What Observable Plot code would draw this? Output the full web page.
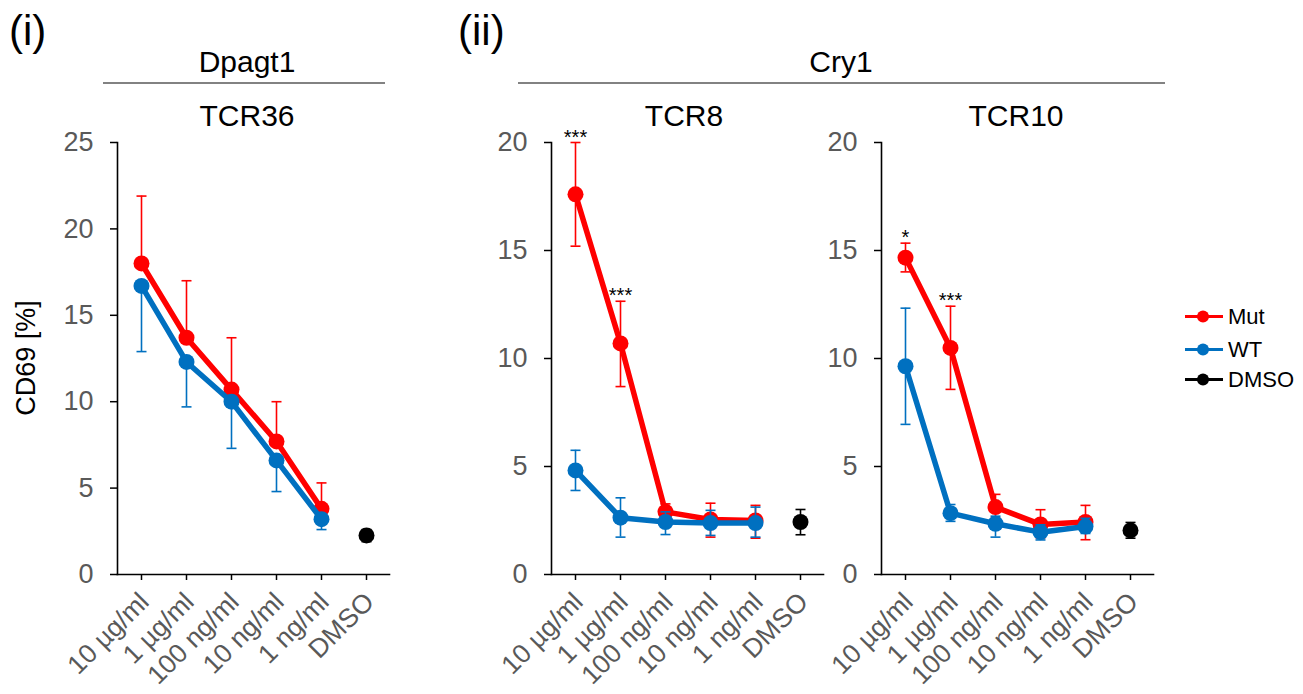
<!DOCTYPE html>
<html>
<head>
<meta charset="utf-8">
<script src="https://cdn.jsdelivr.net/npm/d3@7"></script>
<script src="https://cdn.jsdelivr.net/npm/@observablehq/plot@0.6"></script>
<style>
  html, body { margin: 0; padding: 0; background: #fff; }
  #root { position: relative; width: 1303px; height: 694px; overflow: hidden; font-family: Arial, "Liberation Sans", sans-serif; }
  #overlay { position: absolute; left: 0; top: 0; pointer-events: none; }
</style>
</head>
<body>
<div id="root"></div>
<script>
// ---------- data ----------
const categories = ["10 µg/ml", "1 µg/ml", "100 ng/ml", "10 ng/ml", "1 ng/ml", "DMSO"];
const doses = categories.slice(0, 5);

// (i) Dpagt1 – TCR36
const tcr36Mut   = [18.0, 13.7, 10.7, 7.7, 3.8];
const tcr36MutLo = [null, null, null, null, null];
const tcr36MutHi = [21.9, 17.0, 13.7, 10.0, 5.3];
const tcr36WT    = [16.7, 12.3, 10.0, 6.6, 3.2];
const tcr36WTLo  = [12.9, 9.7, 7.3, 4.8, 2.6];
const tcr36WTHi  = [null, null, null, null, null];
const tcr36DMSO  = [2.26, 1.9, 2.6];        // mean, lo, hi
const tcr36Stars = ["", "", "", "", ""];

// (ii) Cry1 – TCR8
const tcr8Mut   = [17.6, 10.7, 2.9, 2.55, 2.5];
const tcr8MutLo = [15.2, 8.7, 2.6, 1.73, 1.68];
const tcr8MutHi = [20.0, 12.65, 3.27, 3.3, 3.2];
const tcr8WT    = [4.82, 2.63, 2.43, 2.38, 2.38];
const tcr8WTLo  = [3.89, 1.73, 1.85, 1.81, 1.73];
const tcr8WTHi  = [5.75, 3.55, 2.9, 2.97, 3.12];
const tcr8DMSO  = [2.43, 1.84, 3.01];
const tcr8Stars = ["***", "***", "", "", ""];

// (ii) Cry1 – TCR10
const tcr10Mut   = [14.67, 10.49, 3.12, 2.32, 2.43];
const tcr10MutLo = [14.01, 8.57, 2.6, 1.7, 1.61];
const tcr10MutHi = [15.34, 12.42, 3.71, 3.0, 3.2];
const tcr10WT    = [9.64, 2.84, 2.35, 1.96, 2.22];
const tcr10WTLo  = [6.95, 2.46, 1.73, 1.6, 1.9];
const tcr10WTHi  = [12.33, 3.24, 2.7, 2.3, 2.6];
const tcr10DMSO  = [2.04, 1.68, 2.41];
const tcr10Stars = ["*", "***", "", "", ""];

const yTicks36 = [0, 5, 10, 15, 20, 25];
const yTicks20 = [0, 5, 10, 15, 20];

const seriesNames = ["Mut", "WT", "DMSO"];
const seriesColors = ["#FF0000", "#0070C0", "#000000"];

// ---------- helpers ----------
function rows(values, lo, hi, cats) {
  return values.map((v, i) => ({cat: cats[i], value: v, lo: lo[i] ?? v, hi: hi[i] ?? v, hasLo: lo[i] != null, hasHi: hi[i] != null}));
}

const FONT = "Arial, 'Liberation Sans', sans-serif";
// horizontal cap symbol for error bars
const capSymbol = {draw(ctx) { ctx.moveTo(-5, 0); ctx.lineTo(5, 0); }};

function panel(opts) {
  const {left, yMax, yTicks, mut, mutLo, mutHi, wt, wtLo, wtHi, dmso, stars} = opts;
  const mutRows = rows(mut, mutLo, mutHi, doses);
  const wtRows = rows(wt, wtLo, wtHi, doses);
  const dmsoRows = rows([dmso[0]], [dmso[1]], [dmso[2]], ["DMSO"]);
  const starRows = doses.map((c, i) => ({cat: c, label: stars[i], y: Math.max(mutHi[i] ?? mut[i], wtHi[i] ?? wt[i])})).filter(d => d.label);

  const errMarks = (data, color) => [
    Plot.ruleX(data, {x: "cat", y1: "lo", y2: "hi", stroke: color, strokeWidth: 1.6}),
    Plot.dot(data.filter(d => d.hasHi), {x: "cat", y: "hi", symbol: capSymbol, stroke: color, strokeWidth: 1.6, fill: "none"}),
    Plot.dot(data.filter(d => d.hasLo), {x: "cat", y: "lo", symbol: capSymbol, stroke: color, strokeWidth: 1.6, fill: "none"})
  ];

  const chart = Plot.plot({
    width: 382,
    height: 594,
    marginLeft: 80,
    marginRight: 30,
    marginTop: 42,
    marginBottom: 120,
    style: `background: transparent; overflow: visible; font-family: ${FONT};`,
    x: {type: "point", domain: categories, padding: 0.5, align: 0.5},
    y: {domain: [0, yMax]},
    marks: [
      Plot.axisY({ticks: yTicks, tickSize: 7, tickPadding: 17, fontSize: 27, fill: "#595959", stroke: "black", strokeWidth: 1.5, label: null}),
      // tick marks only
      Plot.axisX({tickSize: 6, tickFormat: () => "", stroke: "black", strokeWidth: 1.5, label: null}),
      // rotated labels only
      Plot.axisX({tickRotate: -45, tickSize: 0, tickPadding: 23, dx: 3, fontSize: 26.5, fill: "#595959", label: null}),
      Plot.frame({anchor: "left", stroke: "black", strokeWidth: 1.6}),
      Plot.frame({anchor: "bottom", stroke: "black", strokeWidth: 1.6}),
      ...errMarks(mutRows, seriesColors[0]),
      Plot.line(mutRows, {x: "cat", y: "value", stroke: seriesColors[0], strokeWidth: 5.5}),
      Plot.dot(mutRows, {x: "cat", y: "value", r: 8, fill: seriesColors[0]}),
      ...errMarks(wtRows, seriesColors[1]),
      Plot.line(wtRows, {x: "cat", y: "value", stroke: seriesColors[1], strokeWidth: 5.5}),
      Plot.dot(wtRows, {x: "cat", y: "value", r: 8, fill: seriesColors[1]}),
      ...errMarks(dmsoRows, seriesColors[2]),
      Plot.dot(dmsoRows, {x: "cat", y: "value", r: 8, fill: seriesColors[2]}),
      Plot.text(starRows, {x: "cat", y: "y", text: "label", fontSize: 20, fill: "black", lineAnchor: "bottom", dy: 1})
    ]
  });
  chart.style.position = "absolute";
  chart.style.left = left + "px";
  chart.style.top = "100px";
  return chart;
}

const root = document.getElementById("root");
root.appendChild(panel({left: 37, yMax: 25, yTicks: yTicks36, mut: tcr36Mut, mutLo: tcr36MutLo, mutHi: tcr36MutHi, wt: tcr36WT, wtLo: tcr36WTLo, wtHi: tcr36WTHi, dmso: tcr36DMSO, stars: tcr36Stars}));
root.appendChild(panel({left: 470.7, yMax: 20, yTicks: yTicks20, mut: tcr8Mut, mutLo: tcr8MutLo, mutHi: tcr8MutHi, wt: tcr8WT, wtLo: tcr8WTLo, wtHi: tcr8WTHi, dmso: tcr8DMSO, stars: tcr8Stars}));
root.appendChild(panel({left: 801.3, yMax: 20, yTicks: yTicks20, mut: tcr10Mut, mutLo: tcr10MutLo, mutHi: tcr10MutHi, wt: tcr10WT, wtLo: tcr10WTLo, wtHi: tcr10WTHi, dmso: tcr10DMSO, stars: tcr10Stars}));

// ---------- overlay: titles, y label, legend ----------
const ov = d3.select(root).append("svg").attr("id", "overlay").attr("width", 1303).attr("height", 694)
  .style("font-family", FONT);
ov.append("text").attr("x", 9).attr("y", 45).attr("font-size", 42).text("(i)");
ov.append("text").attr("x", 458).attr("y", 45).attr("font-size", 42).text("(ii)");
ov.append("text").attr("x", 247).attr("y", 72).attr("font-size", 30).attr("text-anchor", "middle").text("Dpagt1");
ov.append("line").attr("x1", 103).attr("x2", 385).attr("y1", 83).attr("y2", 83).attr("stroke", "#595959").attr("stroke-width", 1.5);
ov.append("text").attr("x", 841).attr("y", 72).attr("font-size", 30).attr("text-anchor", "middle").text("Cry1");
ov.append("line").attr("x1", 518).attr("x2", 1165).attr("y1", 83).attr("y2", 83).attr("stroke", "#595959").attr("stroke-width", 1.5);
ov.append("text").attr("x", 247).attr("y", 126).attr("font-size", 30).attr("text-anchor", "middle").text("TCR36");
ov.append("text").attr("x", 684).attr("y", 126).attr("font-size", 30).attr("text-anchor", "middle").text("TCR8");
ov.append("text").attr("x", 1016).attr("y", 126).attr("font-size", 30).attr("text-anchor", "middle").text("TCR10");
ov.append("text").attr("transform", "translate(35,358) rotate(-90)").attr("font-size", 27).attr("text-anchor", "middle").text("CD69 [%]");

const legendY = [316.5, 349.5, 379.5];
seriesNames.forEach((name, i) => {
  const g = ov.append("g").attr("transform", `translate(0,${legendY[i]})`);
  g.append("line").attr("x1", 1185).attr("x2", 1223).attr("stroke", seriesColors[i]).attr("stroke-width", 3.2);
  g.append("circle").attr("cx", 1203).attr("r", 6).attr("fill", seriesColors[i]);
  g.append("text").attr("x", 1228).attr("dy", "0.35em").attr("font-size", 22).text(name);
});
</script>
</body>
</html>
